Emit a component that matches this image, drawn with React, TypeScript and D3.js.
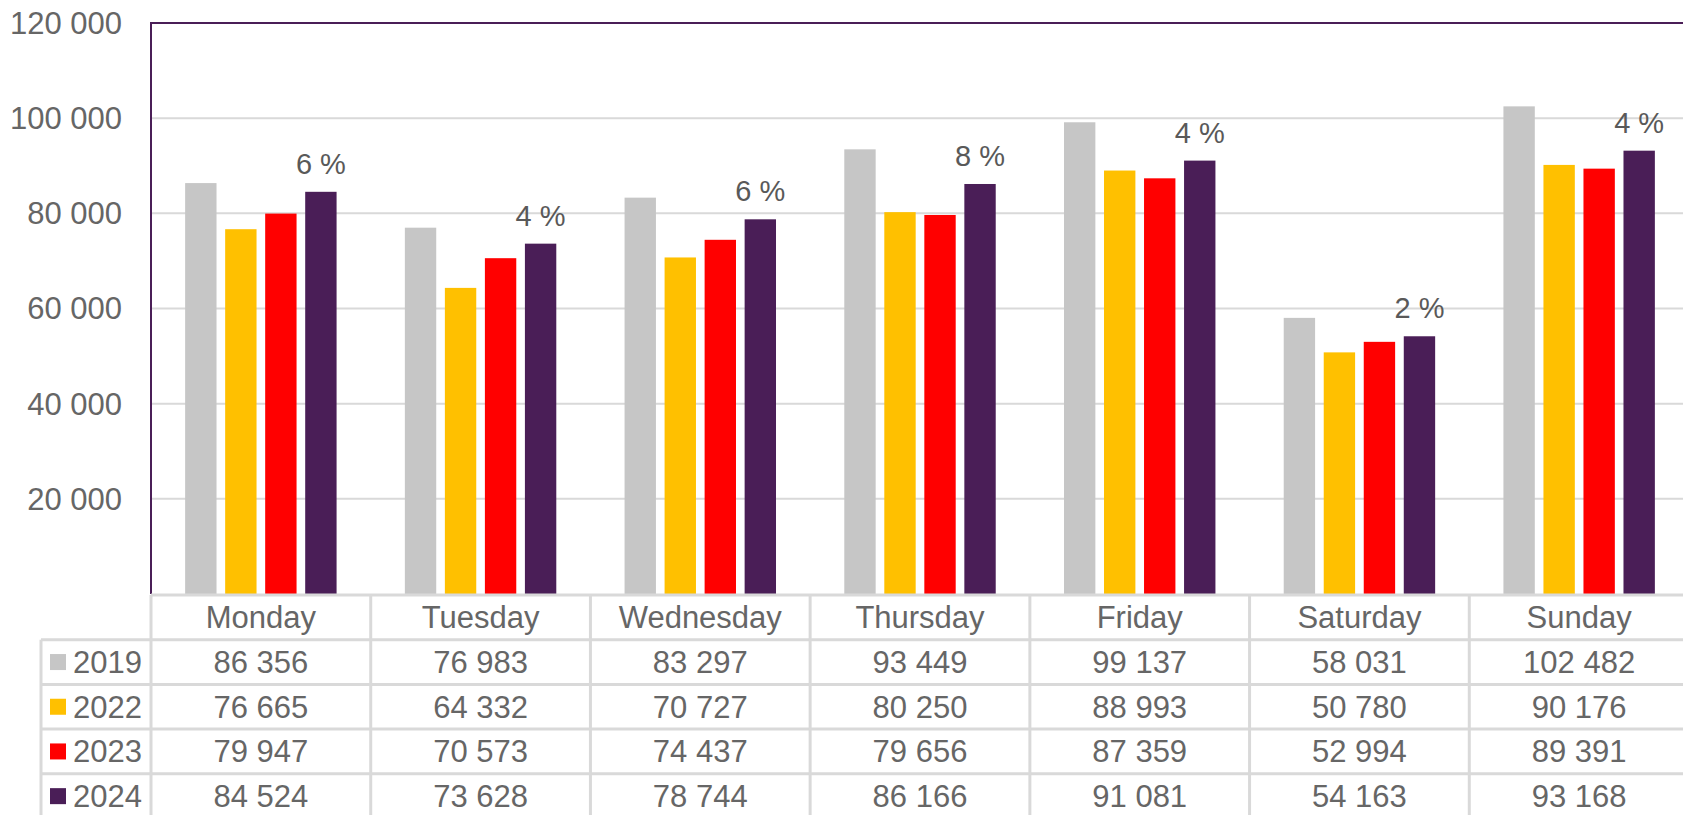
import React, { useEffect, useRef } from "react";
import * as d3 from "d3";

// categories and series
const days = ["Monday", "Tuesday", "Wednesday", "Thursday", "Friday", "Saturday", "Sunday"];
const years = ["2019", "2022", "2023", "2024"];
const values2019 = [86356, 76983, 83297, 93449, 99137, 58031, 102482];
const values2022 = [76665, 64332, 70727, 80250, 88993, 50780, 90176];
const values2023 = [79947, 70573, 74437, 79656, 87359, 52994, 89391];
const values2024 = [84524, 73628, 78744, 86166, 91081, 54163, 93168];
const changeLabels = ["6 %", "4 %", "6 %", "8 %", "4 %", "2 %", "4 %"];
const yTicks = [20000, 40000, 60000, 80000, 100000, 120000];
const colors = ["#c6c6c6", "#ffc000", "#ff0000", "#4a1e57"];

const App = () => {
  const svgRef = useRef(null);

  useEffect(() => {
    const svg = d3.select(svgRef.current);
    svg.selectAll("*").remove();

    const series = [values2019, values2022, values2023, values2024];
    const left = 151;
    const right = 1689;
    const top = 23;
    const bottom = 594;
    const font = "'Liberation Sans', Arial, sans-serif";
    const textColor = "#666666";
    const lineColor = "#d9d9d9";
    const fmt = (v) => d3.format(",")(v).replace(/,/g, " ");

    const x = d3.scaleBand().domain(days).range([left, right]);
    const x1 = d3
      .scaleBand()
      .domain(years)
      .range([0, x.bandwidth()])
      .paddingInner(0.216)
      .paddingOuter(0.853);
    const y = d3.scaleLinear().domain([0, 120000]).range([bottom, top]);

    // grid lines
    svg
      .append("g")
      .selectAll("line")
      .data(yTicks.slice(0, -1))
      .join("line")
      .attr("x1", left)
      .attr("x2", right)
      .attr("y1", (d) => y(d))
      .attr("y2", (d) => y(d))
      .attr("stroke", lineColor)
      .attr("stroke-width", 2);

    // y labels
    svg
      .append("g")
      .selectAll("text")
      .data(yTicks)
      .join("text")
      .attr("x", 122)
      .attr("y", (d) => y(d))
      .attr("dy", "0.35em")
      .attr("text-anchor", "end")
      .attr("font-family", font)
      .attr("font-size", 31)
      .attr("fill", textColor)
      .text((d) => fmt(d));

    // bars
    series.forEach((vals, i) => {
      svg
        .append("g")
        .selectAll("rect")
        .data(vals)
        .join("rect")
        .attr("x", (d, j) => x(days[j]) + x1(years[i]))
        .attr("y", (d) => y(d))
        .attr("width", x1.bandwidth())
        .attr("height", (d) => y(0) - y(d))
        .attr("fill", colors[i]);
    });

    // change labels above 2024 bars
    svg
      .append("g")
      .selectAll("text")
      .data(values2024)
      .join("text")
      .attr("x", (d, j) => x(days[j]) + x1("2024") + x1.bandwidth() / 2)
      .attr("y", (d) => y(d) - 18)
      .attr("text-anchor", "middle")
      .attr("font-family", font)
      .attr("font-size", 29)
      .attr("fill", "#595959")
      .text((d, j) => changeLabels[j]);

    // plot border (top + left)
    svg
      .append("path")
      .attr("d", `M${left},${bottom} V${top} H${right}`)
      .attr("fill", "none")
      .attr("stroke", "#4a1e57")
      .attr("stroke-width", 2);

    // data table
    const tableTop = 595;
    const rowH = 44.7;
    const legendLeft = 41;
    const g = svg.append("g");

    // horizontal lines
    g.append("line")
      .attr("x1", left)
      .attr("x2", right)
      .attr("y1", tableTop)
      .attr("y2", tableTop)
      .attr("stroke", lineColor)
      .attr("stroke-width", 3);
    for (let r = 1; r <= 5; r++) {
      g.append("line")
        .attr("x1", legendLeft)
        .attr("x2", right)
        .attr("y1", tableTop + r * rowH)
        .attr("y2", tableTop + r * rowH)
        .attr("stroke", lineColor)
        .attr("stroke-width", 3);
    }
    // vertical lines
    g.append("line")
      .attr("x1", legendLeft)
      .attr("x2", legendLeft)
      .attr("y1", tableTop + rowH)
      .attr("y2", 815)
      .attr("stroke", lineColor)
      .attr("stroke-width", 3);
    days.forEach((d) => {
      g.append("line")
        .attr("x1", x(d))
        .attr("x2", x(d))
        .attr("y1", tableTop)
        .attr("y2", 815)
        .attr("stroke", lineColor)
        .attr("stroke-width", 3);
    });

    // header row
    g.selectAll("text.day")
      .data(days)
      .join("text")
      .attr("class", "day")
      .attr("x", (d) => x(d) + x.bandwidth() / 2)
      .attr("y", tableTop + rowH / 2)
      .attr("dy", "0.35em")
      .attr("text-anchor", "middle")
      .attr("font-family", font)
      .attr("font-size", 31)
      .attr("fill", textColor)
      .text((d) => d);

    // value rows with legend keys
    series.forEach((vals, i) => {
      const cy = tableTop + (i + 1.5) * rowH;
      g.append("rect")
        .attr("x", 50)
        .attr("y", cy - 8)
        .attr("width", 16)
        .attr("height", 16)
        .attr("fill", colors[i]);
      g.append("text")
        .attr("x", 73)
        .attr("y", cy)
        .attr("dy", "0.35em")
        .attr("font-family", font)
        .attr("font-size", 31)
        .attr("fill", textColor)
        .text(years[i]);
      g.append("g")
        .selectAll("text")
        .data(vals)
        .join("text")
        .attr("x", (d, j) => x(days[j]) + x.bandwidth() / 2)
        .attr("y", cy)
        .attr("dy", "0.35em")
        .attr("text-anchor", "middle")
        .attr("font-family", font)
        .attr("font-size", 31)
        .attr("fill", textColor)
        .text((d) => fmt(d));
    });
  }, []);

  return (
    <svg
      ref={svgRef}
      width={1683}
      height={815}
      style={{ position: "absolute", left: 0, top: 0, background: "#fff" }}
    ></svg>
  );
};

export default App;
